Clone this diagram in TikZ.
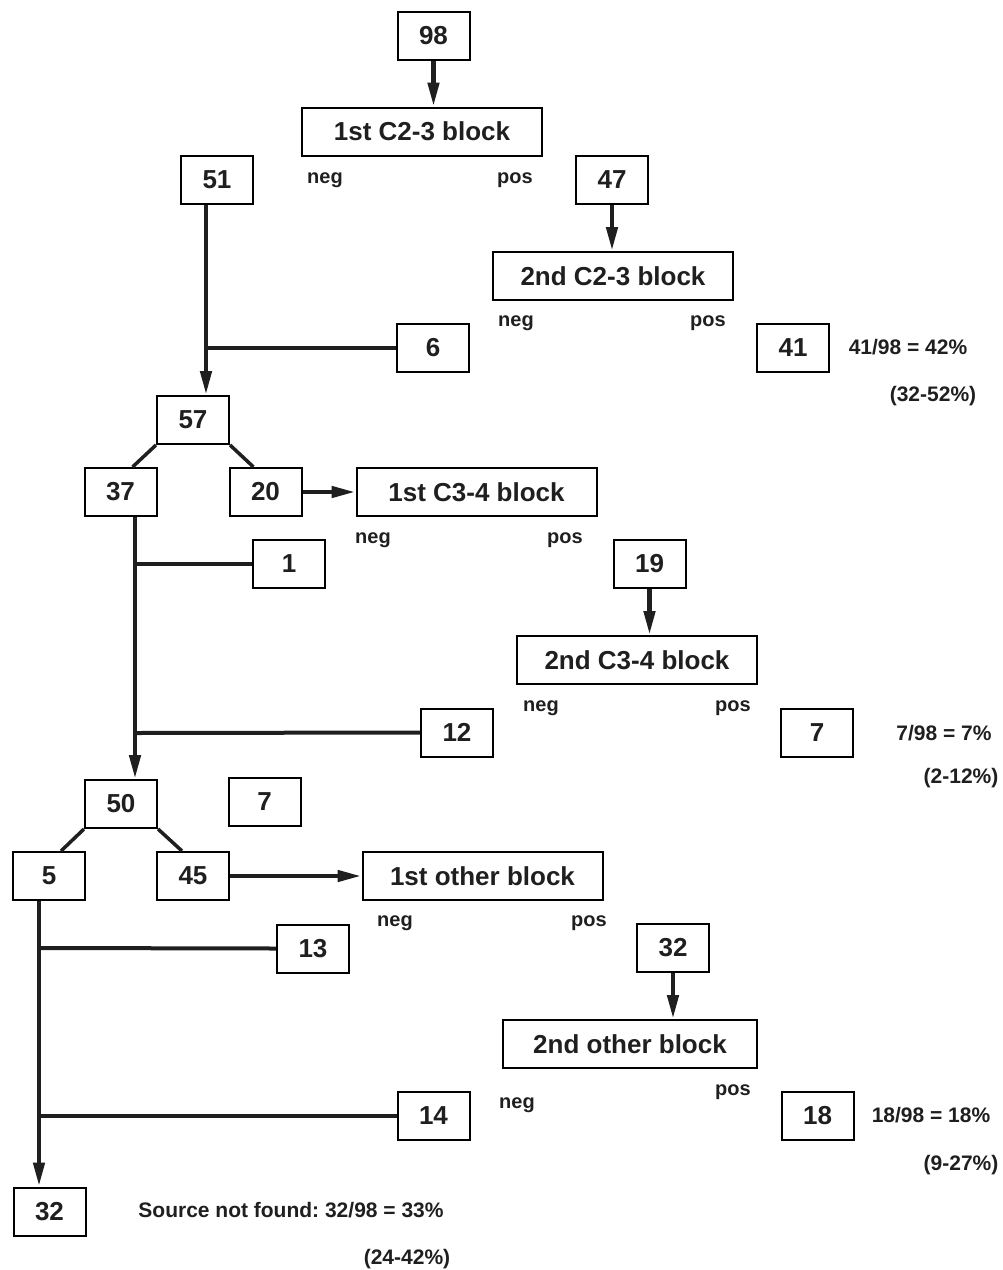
\documentclass[tikz,border=0pt]{standalone}
\usepackage{fontspec}
\setmainfont{Liberation Sans}
\usetikzlibrary{arrows.meta}
\frenchspacing
\newcommand{\numfnt}{\fontsize{26}{30}\selectfont\bfseries}
\newcommand{\lblfnt}{\fontsize{20}{23}\selectfont\bfseries}
\newcommand{\annfnt}{\fontsize{21}{25}\selectfont\bfseries}
\tikzset{
  numbox/.style={draw, line width=2pt, minimum width=72pt, minimum height=48pt, inner sep=0pt, font=\numfnt, text=black!88},
  blockbox/.style={draw, line width=2pt, minimum width=240pt, minimum height=48pt, inner sep=0pt, font=\numfnt, text=black!88},
  lbl/.style={inner sep=0pt, font=\lblfnt, text=black!88},
  ann/.style={inner sep=0pt, font=\annfnt, text=black!88},
  branch/.style={line width=4pt, draw=black!88},
  diag/.style={line width=3.5pt, draw=black!88},
  arr/.style={line width=4.5pt, draw=black!88, -{Triangle[width=11pt,length=24pt]}, fill=black!88},
}
\begin{document}
\begin{tikzpicture}[x=1pt,y=-1pt]
\useasboundingbox (0,0) rectangle (1003,1270);
% C2-3 section
\node[numbox] (n98) at (433.5,36) {98};
\node[blockbox] (b1c23) at (422,131.5) {1st C2-3 block};
\node[lbl] (neg1) at (325,180) {neg};
\node[lbl] (pos1) at (515,180) {pos};
\node[numbox] (n51) at (217,180) {51};
\node[numbox] (n47) at (612,180) {47};
\node[blockbox] (b2c23) at (613,276) {2nd C2-3 block};
\node[lbl] (neg2) at (516,323) {neg};
\node[lbl] (pos2) at (708,323) {pos};
\node[numbox] (n6) at (433,347.5) {6};
\node[numbox] (n41) at (793,347.5) {41};
\node[ann] (t41) at (908,347) {41/98 = 42\%};
\node[ann] (c41) at (933,396) {(32-52\%)};
% C3-4 section
\node[numbox] (n57) at (193,420) {57};
\node[numbox] (n37) at (120.5,492) {37};
\node[numbox] (n20) at (265.5,492) {20};
\node[blockbox] (b1c34) at (476.5,492) {1st C3-4 block};
\node[lbl] (neg3) at (373,540) {neg};
\node[lbl] (pos3) at (565,540) {pos};
\node[numbox] (n1) at (289,564) {1};
\node[numbox] (n19) at (649.5,564) {19};
\node[blockbox] (b2c34) at (637,660) {2nd C3-4 block};
\node[lbl] (neg4) at (541,708) {neg};
\node[lbl] (pos4) at (733,708) {pos};
\node[numbox] (n12) at (457,732.5) {12};
\node[numbox] (n7a) at (817,732.5) {7};
\node[ann] (t7) at (944,733) {7/98 = 7\%};
\node[ann] (c7) at (961,778) {(2-12\%)};
% other section
\node[numbox] (n50) at (121,804) {50};
\node[numbox] (n7b) at (264.5,802) {7};
\node[numbox] (n5) at (49,876) {5};
\node[numbox] (n45) at (193,876) {45};
\node[blockbox] (b1oth) at (482.5,876) {1st other block};
\node[lbl] (neg5) at (395,923) {neg};
\node[lbl] (pos5) at (589,923) {pos};
\node[numbox] (n13) at (313,948.5) {13};
\node[numbox] (n32a) at (673,947.5) {32};
\node[blockbox, minimum width=254pt] (b2oth) at (630,1044) {2nd other block};
\node[lbl] (pos6) at (733,1092) {pos};
\node[lbl] (neg6) at (517,1105) {neg};
\node[numbox] (n18) at (817.5,1116) {18};
\node[ann] (t18) at (931,1115) {18/98 = 18\%};
\node[ann] (c18) at (961,1165) {(9-27\%)};
\node[numbox] (n14) at (433.5,1116) {14};
\node[numbox] (n32b) at (49.5,1211.5) {32};
\node[ann] (tsrc) at (291,1210) {Source not found: 32/98 = 33\%};
\node[ann] (csrc) at (407,1259) {(24-42\%)};
% junction coordinates
\coordinate (j1) at (206,347);
\coordinate (j2) at (135,564);
\coordinate (j3) at (135,733);
\coordinate (j4) at (39,948);
\coordinate (j5) at (39,1116);
% vertical arrows into blocks
\draw[arr] (n98.south) -- (n98.south |- b1c23.north);
\draw[arr] (n47.south) -- (n47.south |- b2c23.north);
\draw[arr] (n19.south) -- (n19.south |- b2c34.north);
\draw[arr] (n32a.south) -- (n32a.south |- b2oth.north);
% horizontal arrows into blocks
\draw[arr] (n20.east) -- (b1c34.west);
\draw[arr] (n45.east) -- (b1oth.west);
% trunks
\draw[arr] (n51.south -| j1) -- (n57.north -| j1);
\draw[branch] (n6.west -| j1) -- (n6.west);
\draw[arr] (n37.south -| j2) -- (n50.north -| j2);
\draw[branch] (j2) -- (n1.west);
\draw[branch] (j3) -- (n12.west);
\draw[arr] (n5.south -| j4) -- (n32b.north -| j4);
\draw[branch] (j4) -- (n13.west);
\draw[branch] (j5) -- (n14.west);
% diagonals
\draw[diag] (n57.south west) -- ([xshift=12pt]n37.north);
\draw[diag] (n57.south east) -- ([xshift=-12pt]n20.north);
\draw[diag] (n50.south west) -- ([xshift=12pt]n5.north);
\draw[diag] (n50.south east) -- ([xshift=-11pt]n45.north);
\end{tikzpicture}
\end{document}
